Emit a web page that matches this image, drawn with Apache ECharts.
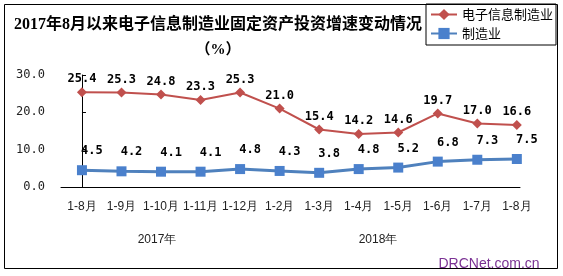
<!DOCTYPE html>
<html>
<head>
<meta charset="utf-8">
<script src="https://cdn.jsdelivr.net/npm/echarts@6/dist/echarts.min.js"></script>
<style>html,body{margin:0;padding:0;background:#fff;}#c{width:563px;height:276px;}</style>
</head>
<body>
<div id="c"></div>
<script>
const titleText = '2017年8月以来电子信息制造业固定资产投资增速变动情况';
const unitText = '（%）';
const categories = ['1-8月','1-9月','1-10月','1-11月','1-12月','1-2月','1-3月','1-4月','1-5月','1-6月','1-7月','1-8月'];
const seriesNames = ['电子信息制造业','制造业'];
const electronics = [25.4,25.3,24.8,23.3,25.3,21.0,15.4,14.2,14.6,19.7,17.0,16.6];
const manufacturing = [4.5,4.2,4.1,4.1,4.8,4.3,3.8,4.8,5.2,6.8,7.3,7.5];
const yTicks = [0,10,20,30];
const years = ['2017年','2018年'];
const watermark = 'DRCNet.com.cn';

const idx = categories.map((c,i)=>i);
const chart = echarts.init(document.getElementById('c'), null, {renderer:'canvas'});
const monoLabel = {fontFamily:'DejaVu Sans Mono', fontWeight:'bold', fontSize:12, color:'#000'};
chart.setOption({
  animation:false,
  backgroundColor:'#fff',
  title:{
    text:titleText, subtext:unitText,
    left:213, top:12, textAlign:'center', padding:5, itemGap:9,
    textStyle:{fontFamily:'Liberation Serif, Noto Sans CJK SC', fontWeight:'bold', fontSize:16, lineHeight:16, color:'#000'},
    subtextStyle:{fontFamily:'Liberation Serif, Noto Sans CJK SC', fontWeight:'bold', fontSize:15, lineHeight:16, color:'#000'}
  },
  legend:{
    orient:'vertical', left:426, top:4,
    borderColor:'#000', borderWidth:1, padding:[4,3,5,4],
    itemWidth:26, itemHeight:14, itemGap:6,
    textStyle:{fontFamily:'Noto Sans CJK SC', fontSize:13, color:'#000'},
    data:seriesNames
  },
  grid:{left:61, right:43, top:75, bottom:89},
  xAxis:{
    type:'value', min:-0.53, max:11.08,
    axisLine:{show:true, onZero:false, lineStyle:{color:'#000', width:1}},
    axisTick:{show:false},
    splitLine:{show:false},
    axisLabel:{customValues:idx, formatter:v=>categories[Math.round(v)], margin:14,
      fontFamily:'Liberation Sans', fontSize:12, color:'#222'}
  },
  yAxis:{
    type:'value', min:yTicks[0], max:yTicks[yTicks.length-1], interval:10,
    axisLine:{show:true, lineStyle:{color:'#000', width:1}},
    axisTick:{show:true, inside:true, length:4, lineStyle:{color:'#000'}},
    splitLine:{show:false},
    axisLabel:{formatter:v=>v.toFixed(1), margin:16, fontFamily:'DejaVu Sans Mono', fontSize:12, color:'#222'}
  },
  series:[
    {
      name:seriesNames[0], type:'line',
      data:electronics.map((v,i)=>[i,v]),
      symbol:'diamond', symbolSize:10,
      lineStyle:{color:'#C0504D', width:2},
      itemStyle:{color:'#C0504D'},
      label:{show:true, position:'top', distance:2, formatter:p=>p.value[1].toFixed(1), ...monoLabel}
    },
    {
      name:seriesNames[1], type:'line',
      data:manufacturing.map((v,i)=>[i,v]),
      symbol:'rect', symbolSize:10,
      lineStyle:{color:'#4F81BD', width:3},
      itemStyle:{color:'#4A80CC'},
      label:{show:true, position:'top', distance:8, offset:[10,0], formatter:p=>p.value[1].toFixed(1), ...monoLabel}
    }
  ],
  graphic:[
    {type:'rect', shape:{x:4.5, y:4.5, width:553, height:264}, style:{fill:'none', stroke:'#000', lineWidth:1}, z:-1},
    {type:'text', x:157, y:240, style:{text:years[0], align:'center', verticalAlign:'middle', font:'12px Liberation Sans', fill:'#222'}},
    {type:'text', x:378, y:240, style:{text:years[1], align:'center', verticalAlign:'middle', font:'12px Liberation Sans', fill:'#222'}},
    {type:'text', x:489, y:264, style:{text:watermark, align:'center', verticalAlign:'middle', font:'14px Liberation Sans', fill:'#7B3294'}}
  ]
});
</script>
</body>
</html>
